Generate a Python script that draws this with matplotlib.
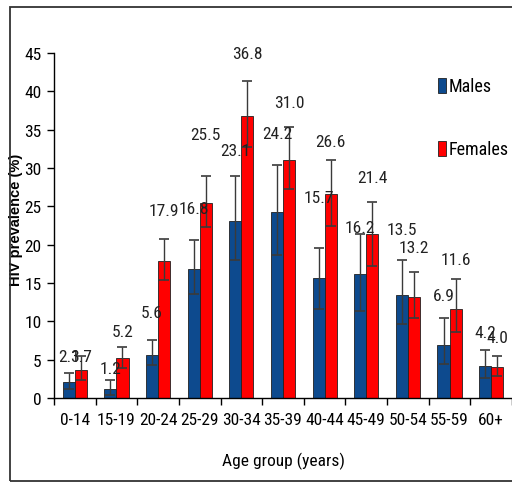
import matplotlib
matplotlib.use("Agg")
import matplotlib.pyplot as plt
from matplotlib.patches import Patch, Rectangle
import numpy as np

categories = ["0-14", "15-19", "20-24", "25-29", "30-34", "35-39",
              "40-44", "45-49", "50-54", "55-59", "60+"]
males = [2.1, 1.2, 5.6, 16.8, 23.1, 24.2, 15.7, 16.2, 13.5, 6.9, 4.2]
females = [3.7, 5.2, 17.9, 25.5, 36.8, 31.0, 26.6, 21.4, 13.2, 11.6, 4.0]
male_upper = [3.2, 2.3, 7.6, 20.6, 29.0, 30.4, 19.6, 21.4, 18.0, 10.4, 6.3]
male_lower = [1.2, 0.4, 4.3, 13.6, 18.0, 18.7, 11.6, 11.3, 9.7, 4.5, 2.6]
female_upper = [5.5, 6.7, 20.8, 29.0, 41.4, 35.3, 31.0, 25.6, 16.5, 15.5, 5.5]
female_lower = [2.3, 3.9, 15.4, 22.3, 32.8, 27.2, 22.5, 17.2, 10.4, 8.6, 2.85]

# label placement (data units above the upper error cap) - layout only
male_label_dy = [2.2, 1.5, 3.6, 4.1, 3.3, 4.1, 6.6, 0.9, 4.0, 3.0, 2.3]
female_label_dy = [-0.1, 2.0, 3.6, 5.4, 3.5, 3.2, 2.5, 3.2, 3.1, 2.6, 2.4]

NARROW = ["Roboto Condensed", "Archivo Narrow", "DejaVu Sans"]
REG = ["Liberation Sans", "DejaVu Sans"]

fig = plt.figure(figsize=(5.12, 4.85), dpi=100)
ax = fig.add_axes([54/512, 86/485, (512-54)/512, (399-54)/485])

x = np.arange(len(categories))
w = 0.29
blue = "#0D4A8E"
red = "#FF0000"

m = np.array(males); f = np.array(females)
m_err = [m - np.array(male_lower), np.array(male_upper) - m]
f_err = [f - np.array(female_lower), np.array(female_upper) - f]

ax.bar(x - w/2, m, w, color=blue, edgecolor="#202020", linewidth=0.6, zorder=2)
ax.bar(x + w/2, f, w, color=red, edgecolor="#202020", linewidth=0.6, zorder=2)
ax.errorbar(x - w/2, m, yerr=m_err, fmt="none", ecolor="#3a3a3a", elinewidth=1.0,
            capsize=3.5, capthick=1.2, zorder=3)
ax.errorbar(x + w/2, f, yerr=f_err, fmt="none", ecolor="#3a3a3a", elinewidth=1.0,
            capsize=3.5, capthick=1.2, zorder=3)

for i in range(len(categories)):
    ax.text(x[i] - w/2, male_upper[i] + male_label_dy[i], f"{males[i]:.1f}",
            ha="center", va="center", fontsize=12.5, family=NARROW, color="#222222")
    ax.text(x[i] + w/2, female_upper[i] + female_label_dy[i], f"{females[i]:.1f}",
            ha="center", va="center", fontsize=12.5, family=NARROW, color="#222222")

ax.set_xlim(-0.5, len(categories) - 0.5)
ax.set_ylim(0, 45)
ax.set_yticks(np.arange(0, 46, 5))
ax.set_xticks(x)
ax.set_xticklabels(categories, family=NARROW, fontsize=12.5)
ax.tick_params(axis="x", which="major", length=0, pad=10)
ax.set_xticks(np.arange(-0.5, len(categories), 1.0), minor=True)
ax.tick_params(axis="x", which="minor", length=5, direction="out", width=1)
ax.tick_params(axis="y", length=5, width=1, direction="out", pad=4)
for lab in ax.get_yticklabels():
    lab.set_family(NARROW)
    lab.set_fontsize(12.5)
for s in ["top", "right"]:
    ax.spines[s].set_visible(False)
ax.spines["left"].set_linewidth(1)
ax.spines["bottom"].set_linewidth(1)

ax.set_ylabel("HIV prevalence (%)", family=REG, fontsize=10.5, fontweight="bold")
ax.yaxis.set_label_coords(-0.068, 0.52)
ax.set_xlabel("Age group (years)", family=NARROW, fontsize=12.5)
ax.xaxis.set_label_coords(0.5, -0.155)

handles = [Patch(facecolor=blue, edgecolor="#202020", linewidth=0.6),
           Patch(facecolor=red, edgecolor="#202020", linewidth=0.6)]
leg = fig.legend(handles, ["Males", "Females"], loc="upper left",
                 bbox_to_anchor=(422/512, 1 - 62/485), frameon=False,
                 handlelength=0.45, handleheight=0.9, handletextpad=0.15,
                 labelspacing=2.5, prop={"family": NARROW, "size": 13})

fig.add_artist(Rectangle((10/512, 3/485), 1.0, (485-8-3)/485, transform=fig.transFigure,
                         fill=False, edgecolor="#333333", linewidth=1.3))

fig.savefig("out.png", dpi=100)
